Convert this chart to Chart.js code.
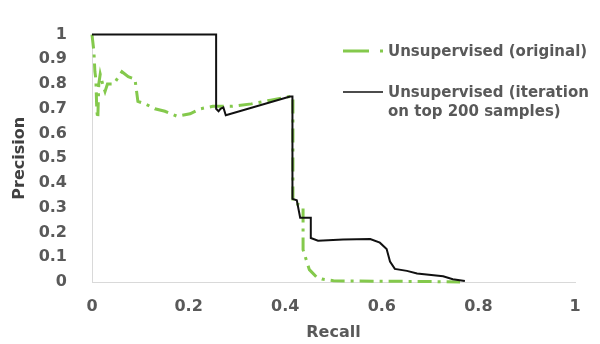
<!DOCTYPE html>
<html>
<head>
<meta charset="utf-8">
<script src="https://cdn.jsdelivr.net/npm/chart.js@4"></script>
<style>
  html, body { margin: 0; padding: 0; background: #fff; }
</style>
</head>
<body>
<canvas id="prChart" width="600" height="344"></canvas>
<script>
// series names (legend)
var seriesNames = ['Unsupervised (original)', 'Unsupervised (iteration on top 200 samples)'];

// axis ticks
var recallTicks = [0, 0.2, 0.4, 0.6, 0.8, 1];
var precisionTicks = [0, 0.1, 0.2, 0.3, 0.4, 0.5, 0.6, 0.7, 0.8, 0.9, 1];

// Unsupervised (original)
var recallOriginal = [0, 0.004, 0.005, 0.006, 0.008, 0.010, 0.012, 0.014, 0.017, 0.022, 0.027, 0.032, 0.045, 0.055, 0.062, 0.075, 0.089, 0.095, 0.11, 0.13, 0.151, 0.176, 0.203, 0.224, 0.25, 0.29, 0.33, 0.37, 0.41, 0.416, 0.416, 0.434, 0.437, 0.437, 0.45, 0.455, 0.465, 0.476, 0.50, 0.60, 0.70, 0.762];
var precisionOriginal = [1, 0.93, 0.89, 0.85, 0.82, 0.69, 0.66, 0.80, 0.84, 0.80, 0.77, 0.80, 0.80, 0.83, 0.85, 0.83, 0.82, 0.73, 0.72, 0.70, 0.69, 0.67, 0.68, 0.70, 0.71, 0.71, 0.72, 0.735, 0.75, 0.75, 0.32, 0.31, 0.30, 0.13, 0.05, 0.04, 0.02, 0.012, 0.005, 0.003, 0.002, 0];

// Unsupervised (iteration on top 200 samples)
var recallIteration = [0, 0.257, 0.257, 0.262, 0.266, 0.272, 0.277, 0.41, 0.415, 0.415, 0.424, 0.431, 0.453, 0.453, 0.468, 0.52, 0.576, 0.596, 0.61, 0.617, 0.627, 0.652, 0.673, 0.727, 0.747, 0.772];
var precisionIteration = [1, 1, 0.70, 0.69, 0.70, 0.706, 0.674, 0.75, 0.75, 0.336, 0.33, 0.26, 0.26, 0.178, 0.167, 0.172, 0.174, 0.159, 0.133, 0.083, 0.053, 0.045, 0.034, 0.023, 0.011, 0.004];

function toPoints(xs, ys) {
  return xs.map(function (x, i) { return { x: x, y: ys[i] }; });
}

var textGray = '#595959';
var greenColor = '#84c94c';

// legend drawn inside the plot, to the right
var legendPlugin = {
  id: 'insideLegend',
  afterDraw: function (chart) {
    var ctx = chart.ctx;
    ctx.save();
    ctx.font = 'bold 15px "DejaVu Sans"';
    ctx.fillStyle = textGray;
    ctx.textBaseline = 'middle';

    // item 1: dash-dot green
    ctx.strokeStyle = greenColor;
    ctx.lineWidth = 3;
    ctx.setLineDash([26, 11, 3, 11]);
    ctx.beginPath();
    ctx.moveTo(343, 51);
    ctx.lineTo(384, 51);
    ctx.stroke();
    ctx.fillText(seriesNames[0], 388, 52);

    // item 2: solid black, wrapped text
    ctx.setLineDash([]);
    ctx.strokeStyle = '#111';
    ctx.lineWidth = 1.5;
    ctx.beginPath();
    ctx.moveTo(343, 92);
    ctx.lineTo(383, 92);
    ctx.stroke();
    var words = seriesNames[1].split(' ');
    var lines = [], line = '';
    words.forEach(function (w) {
      var test = line ? line + ' ' + w : w;
      if (ctx.measureText(test).width > 212 && line) {
        lines.push(line);
        line = w;
      } else {
        line = test;
      }
    });
    lines.push(line);
    lines.forEach(function (l, i) {
      ctx.fillText(l, 388, 93 + i * 19);
    });
    ctx.restore();
  }
};

function plainLabel(v) { return String(Math.round(v * 10) / 10); }

var ctx = document.getElementById('prChart').getContext('2d');
var prChart = new Chart(ctx, {
  type: 'scatter',
  data: {
    datasets: [
      {
        label: seriesNames[1],
        data: toPoints(recallIteration, precisionIteration),
        showLine: true,
        borderColor: '#111',
        borderWidth: 2,
        pointRadius: 0,
        tension: 0,
        clip: 4,
        order: 0
      },
      {
        label: seriesNames[0],
        data: toPoints(recallOriginal, precisionOriginal),
        showLine: true,
        borderColor: greenColor,
        borderWidth: 3,
        borderDash: [14, 6, 3, 6],
        pointRadius: 0,
        tension: 0,
        clip: 4,
        order: 1
      }
    ]
  },
  options: {
    responsive: false,
    animation: false,
    layout: { padding: { left: 0, right: 25, top: 18, bottom: 0 } },
    plugins: {
      legend: { display: false },
      tooltip: { enabled: false }
    },
    scales: {
      x: {
        type: 'linear',
        min: 0,
        max: 1,
        afterBuildTicks: function (s) { s.ticks = recallTicks.map(function (v) { return { value: v }; }); },
        afterFit: function (s) { s.height = 62; },
        grid: { display: false, drawTicks: false },
        border: { display: true, color: '#d9d9d9', width: 1 },
        ticks: { color: textGray, padding: 15, callback: plainLabel, font: { family: 'DejaVu Sans', size: 16, weight: 'bold' } },
        title: { display: true, text: 'Recall', color: textGray, padding: { top: 0, bottom: 2 }, font: { family: 'DejaVu Sans', size: 16, weight: 'bold' } }
      },
      y: {
        type: 'linear',
        min: 0,
        max: 1,
        afterBuildTicks: function (s) { s.ticks = precisionTicks.map(function (v) { return { value: v }; }); },
        afterFit: function (s) { s.width = 92; },
        grid: { display: false, drawTicks: false },
        border: { display: true, color: '#d9d9d9', width: 1 },
        ticks: { color: textGray, padding: 25, callback: plainLabel, font: { family: 'DejaVu Sans', size: 16, weight: 'bold' } },
        title: { display: true, text: 'Precision', color: '#404040', padding: { top: 10, bottom: 0 }, font: { family: 'DejaVu Sans', size: 16, weight: 'bold' } }
      }
    }
  },
  plugins: [legendPlugin]
});
</script>
</body>
</html>
